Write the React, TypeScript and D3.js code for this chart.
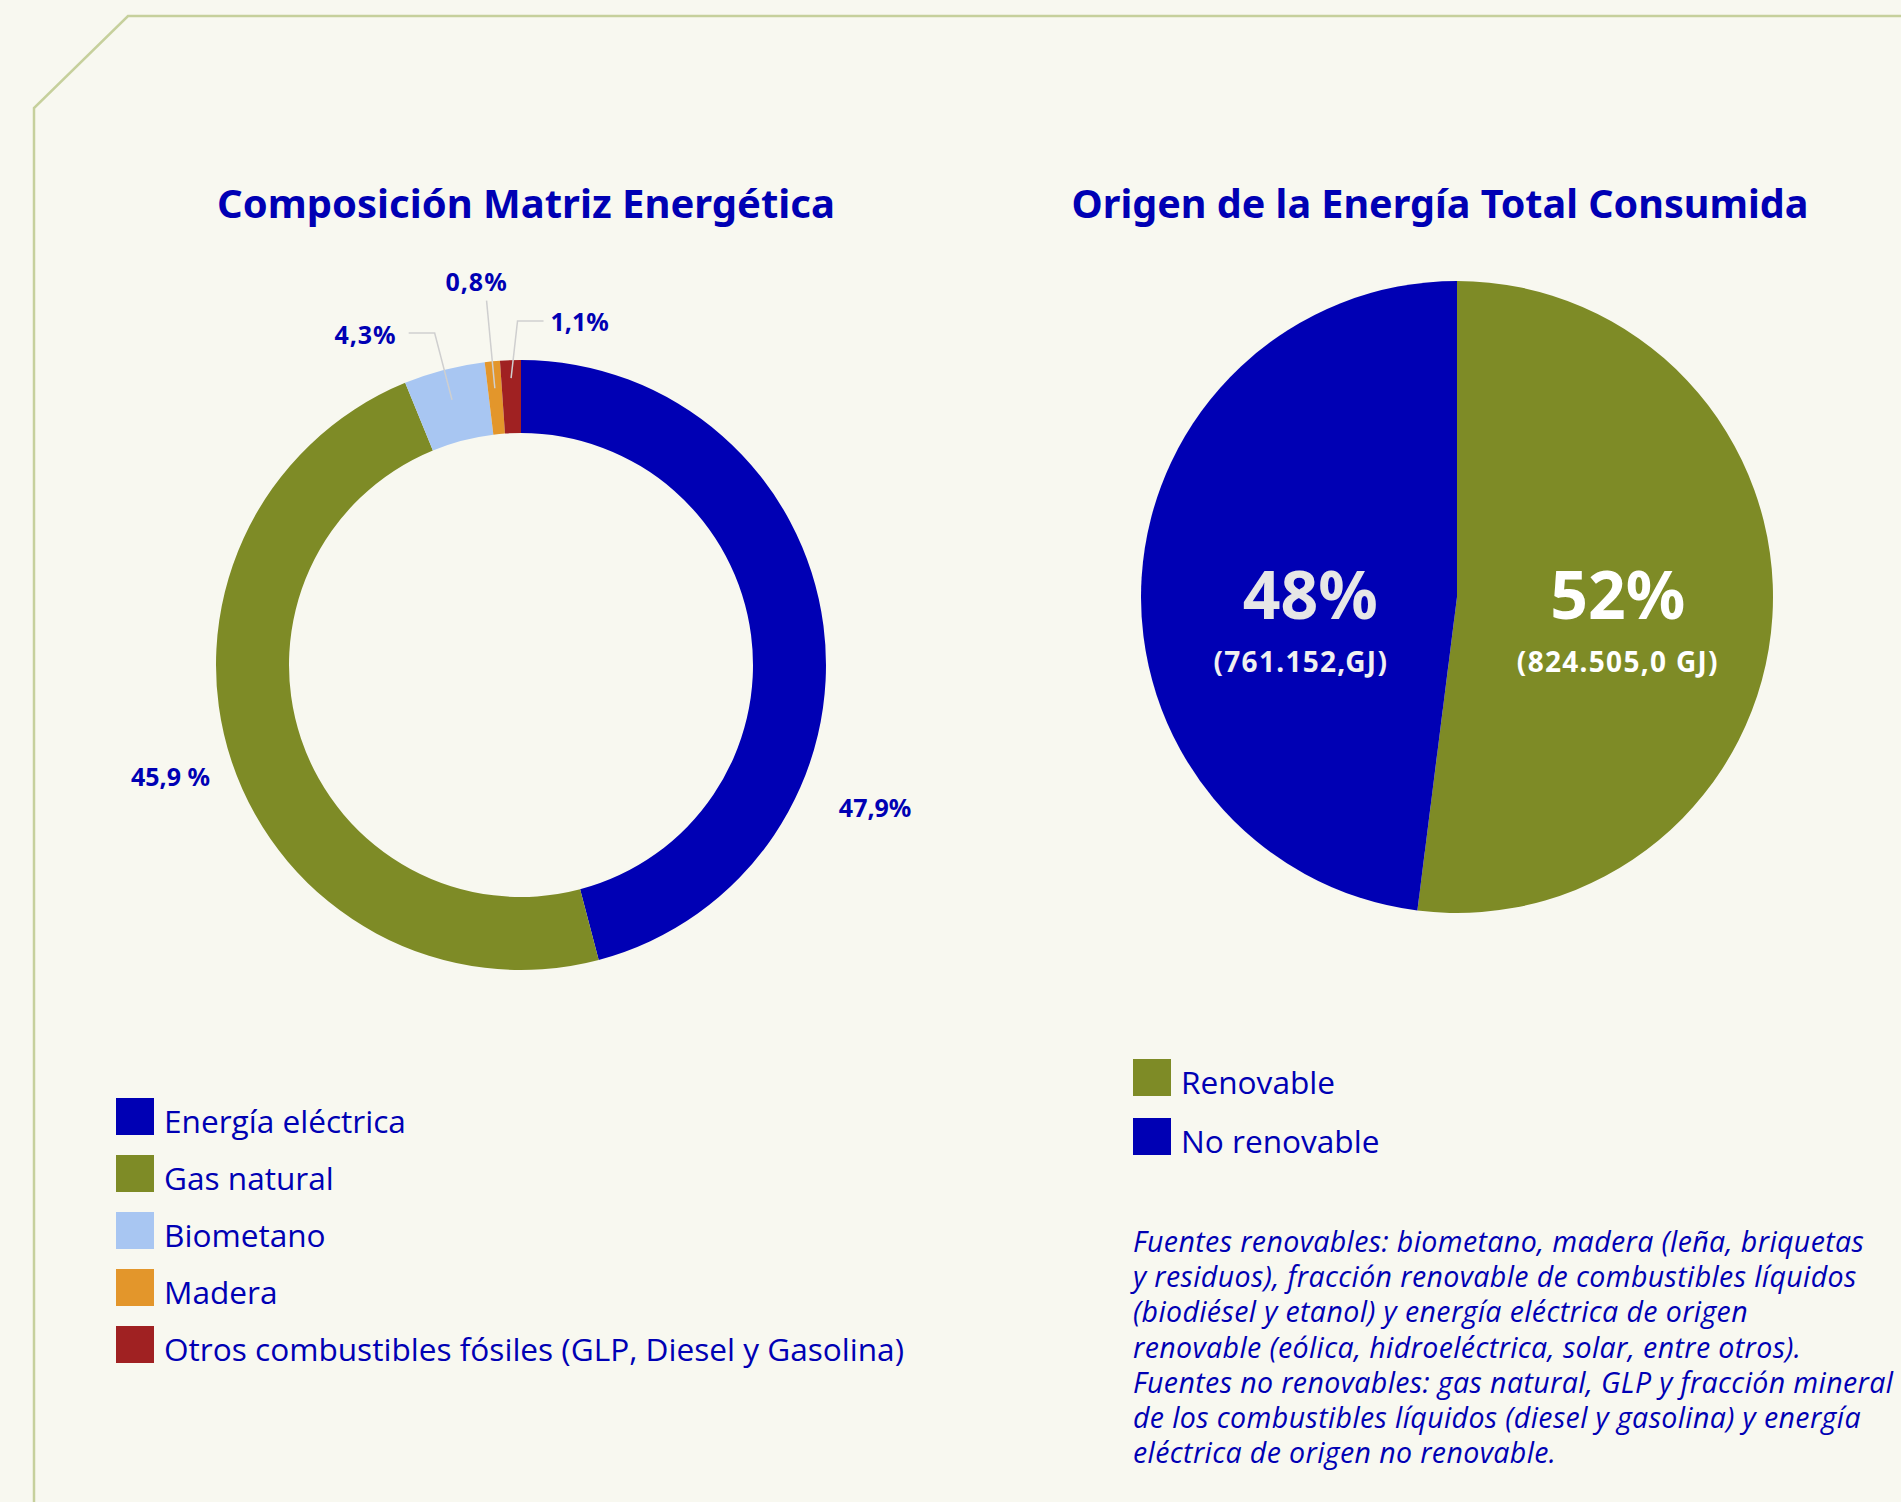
import React from 'react';
import * as d3 from 'd3';

// Composición Matriz Energética (donut)
// slice sizes as drawn in the original (blue arc is the smaller one), labels as printed
const matrizCategorias = ['Energía eléctrica', 'Gas natural', 'Biometano', 'Madera', 'Otros combustibles fósiles (GLP, Diesel y Gasolina)'];
const matrizValores = [45.9, 47.9, 4.3, 0.8, 1.1];
const matrizEtiquetas = ['47,9%', '45,9 %', '4,3%', '0,8%', '1,1%'];
const matrizColores = ['#0000b4', '#7e8b26', '#a8c6f2', '#e3962b', '#a02122'];

// Origen de la Energía Total Consumida (pie)
const origenCategorias = ['Renovable', 'No renovable'];
const origenValores = [52, 48];
const origenEtiquetas = ['52%', '48%'];
const origenEnergia = ['(824.505,0 GJ)', '(761.152,GJ)'];
const origenColores = ['#7e8b26', '#0000b4'];

const notaLineas = [
  'Fuentes renovables: biometano, madera (leña, briquetas',
  'y residuos), fracción renovable de combustibles líquidos',
  '(biodiésel y etanol) y energía eléctrica de origen',
  'renovable (eólica, hidroeléctrica, solar, entre otros).',
  'Fuentes no renovables: gas natural, GLP y fracción mineral',
  'de los combustibles líquidos (diesel y gasolina) y energía',
  'eléctrica de origen no renovable.',
];

const W = 1901;
const H = 1502;
const azul = '#0000b4';
const fondo = '#f8f8f0';
const tituloFont = '"Noto Sans", sans-serif';
const cuerpoFont = '"Open Sans", sans-serif';

// label layout for the donut: big labels by polar offset, small ones with leaders
const etiquetaLayout = [
  { tipo: 'polar', shift: 29.4, r: 382 },
  { tipo: 'polar', shift: 0.8, r: 368 },
  { tipo: 'leader', r0: 274, r1: 343, shift: 0, h: -26 },
  { tipo: 'leader', r0: 278, r1: 366, shift: 0, h: 0 },
  { tipo: 'leader', r0: 287, r1: 344, shift: 1.4, h: 26 },
];
// horizontal nudge of the big pie percentages
const origenNudge = [0, 14];

const Donut = () => {
  const cx = 521, cy = 665;
  const outer = 305, inner = 232;
  const pie = d3.pie<number>().sort(null).value(d => d);
  const arcs = pie(matrizValores);
  const arc = d3.arc<d3.PieArcDatum<number>>().innerRadius(inner).outerRadius(outer);
  const polar = (a: number, r: number): [number, number] => [r * Math.sin(a), -r * Math.cos(a)];
  const rad = (deg: number) => (deg * Math.PI) / 180;

  return (
    <g transform={`translate(${cx},${cy})`}>
      {arcs.map((d, i) => (
        <path key={i} d={arc(d) || ''} fill={matrizColores[i]} />
      ))}
      {arcs.map((d, i) => {
        const mid = (d.startAngle + d.endAngle) / 2;
        const lay: any = etiquetaLayout[i];
        const style = { fontFamily: tituloFont, fontWeight: 700, fontSize: 25, fill: azul } as any;
        if (lay.tipo === 'polar') {
          const [x, y] = polar(mid + rad(lay.shift), lay.r);
          return (
            <text key={i} x={x} y={y} dy="0.35em" textAnchor="middle" style={style}>{matrizEtiquetas[i]}</text>
          );
        }
        const p0 = polar(mid, lay.r0);
        const p1 = polar(mid + rad(lay.shift), lay.r1);
        const p2: [number, number] = [p1[0] + lay.h, p1[1]];
        const line = d3.line()([p0, p1, p2]) || '';
        let tx = p2[0], ty = p2[1], anchor = 'middle';
        if (lay.h < 0) { tx = p2[0] - 12; anchor = 'end'; ty = p2[1] + 2; }
        else if (lay.h > 0) { tx = p2[0] + 7; anchor = 'start'; ty = p2[1] + 1; }
        else { tx = p2[0] - 10; ty = p2[1] - 18; }
        return (
          <g key={i}>
            <path d={line} fill="none" stroke="#cfcfcf" strokeWidth={1.5} />
            <text x={tx} y={ty} dy="0.35em" textAnchor={anchor} style={{ ...style, letterSpacing: i === 4 ? 0 : 1 }}>{matrizEtiquetas[i]}</text>
          </g>
        );
      })}
    </g>
  );
};

const Pastel = () => {
  const cx = 1457, cy = 597;
  const r = 316;
  const pie = d3.pie<number>().sort(null).value(d => d);
  const arcs = pie(origenValores);
  const arc = d3.arc<d3.PieArcDatum<number>>().innerRadius(0).outerRadius(r);
  const labelArc = d3.arc<d3.PieArcDatum<number>>().innerRadius(0).outerRadius(r * 1.02);
  const fills = ['#ffffff', '#e6e6e6'];
  return (
    <g transform={`translate(${cx},${cy})`}>
      {arcs.map((d, i) => (
        <path key={i} d={arc(d) || ''} fill={origenColores[i]} />
      ))}
      {arcs.map((d, i) => {
        const [x] = labelArc.centroid(d);
        return (
          <g key={'l' + i}>
            <text x={x + origenNudge[i]} y={22} textAnchor="middle" style={{ fontFamily: tituloFont, fontWeight: 700, fontSize: 66, fill: fills[i] }}>{origenEtiquetas[i]}</text>
            <text x={x + origenNudge[i] / 3} y={75} textAnchor="middle" style={{ fontFamily: tituloFont, fontWeight: 700, fontSize: 28, letterSpacing: 1.3, fill: i === 0 ? '#ffffff' : '#f0f0f0' }}>{origenEnergia[i]}</text>
          </g>
        );
      })}
    </g>
  );
};

const Leyenda = ({ x, y, paso, categorias, colores }: any) => (
  <g transform={`translate(${x},${y})`}>
    {categorias.map((c: string, i: number) => (
      <g key={c} transform={`translate(0,${i * paso})`}>
        <rect x={0} y={0} width={38} height={37} fill={colores[i]} />
        <text x={48} y={35} style={{ fontFamily: cuerpoFont, fontSize: 31.6, fill: azul }}>{c}</text>
      </g>
    ))}
  </g>
);

const App = () => {
  React.useEffect(() => {
    document.body.style.margin = '0';
    document.body.style.background = fondo;
  }, []);
  const marco = d3.line()([[W + 5, 16], [128, 16], [34, 108], [34, H + 5]]) || '';
  return (
    <div style={{ position: 'absolute', left: 0, top: 0, width: W, height: H, background: fondo }}>
      <svg width={W} height={H} style={{ display: 'block' }}>
        <rect width={W} height={H} fill={fondo} />
        <path d={marco} fill="none" stroke="#c6d09c" strokeWidth={2.5} />
        <text x={526} y={218} textAnchor="middle" style={{ fontFamily: tituloFont, fontWeight: 700, fontSize: 40, fill: azul }}>Composición Matriz Energética</text>
        <text x={1440} y={218} textAnchor="middle" style={{ fontFamily: tituloFont, fontWeight: 700, fontSize: 39.5, fill: azul }}>Origen de la Energía Total Consumida</text>
        <Donut />
        <Pastel />
        <Leyenda x={116} y={1098} paso={57} categorias={matrizCategorias} colores={matrizColores} />
        <Leyenda x={1133} y={1059} paso={59} categorias={origenCategorias} colores={origenColores} />
        <g style={{ fontFamily: cuerpoFont, fontStyle: 'italic', fontSize: 28.5, letterSpacing: 0.4, fill: azul }}>
          {notaLineas.map((l, i) => (
            <text key={i} x={1133} y={1252 + i * 35.2}>{l}</text>
          ))}
        </g>
      </svg>
    </div>
  );
};

export default App;
